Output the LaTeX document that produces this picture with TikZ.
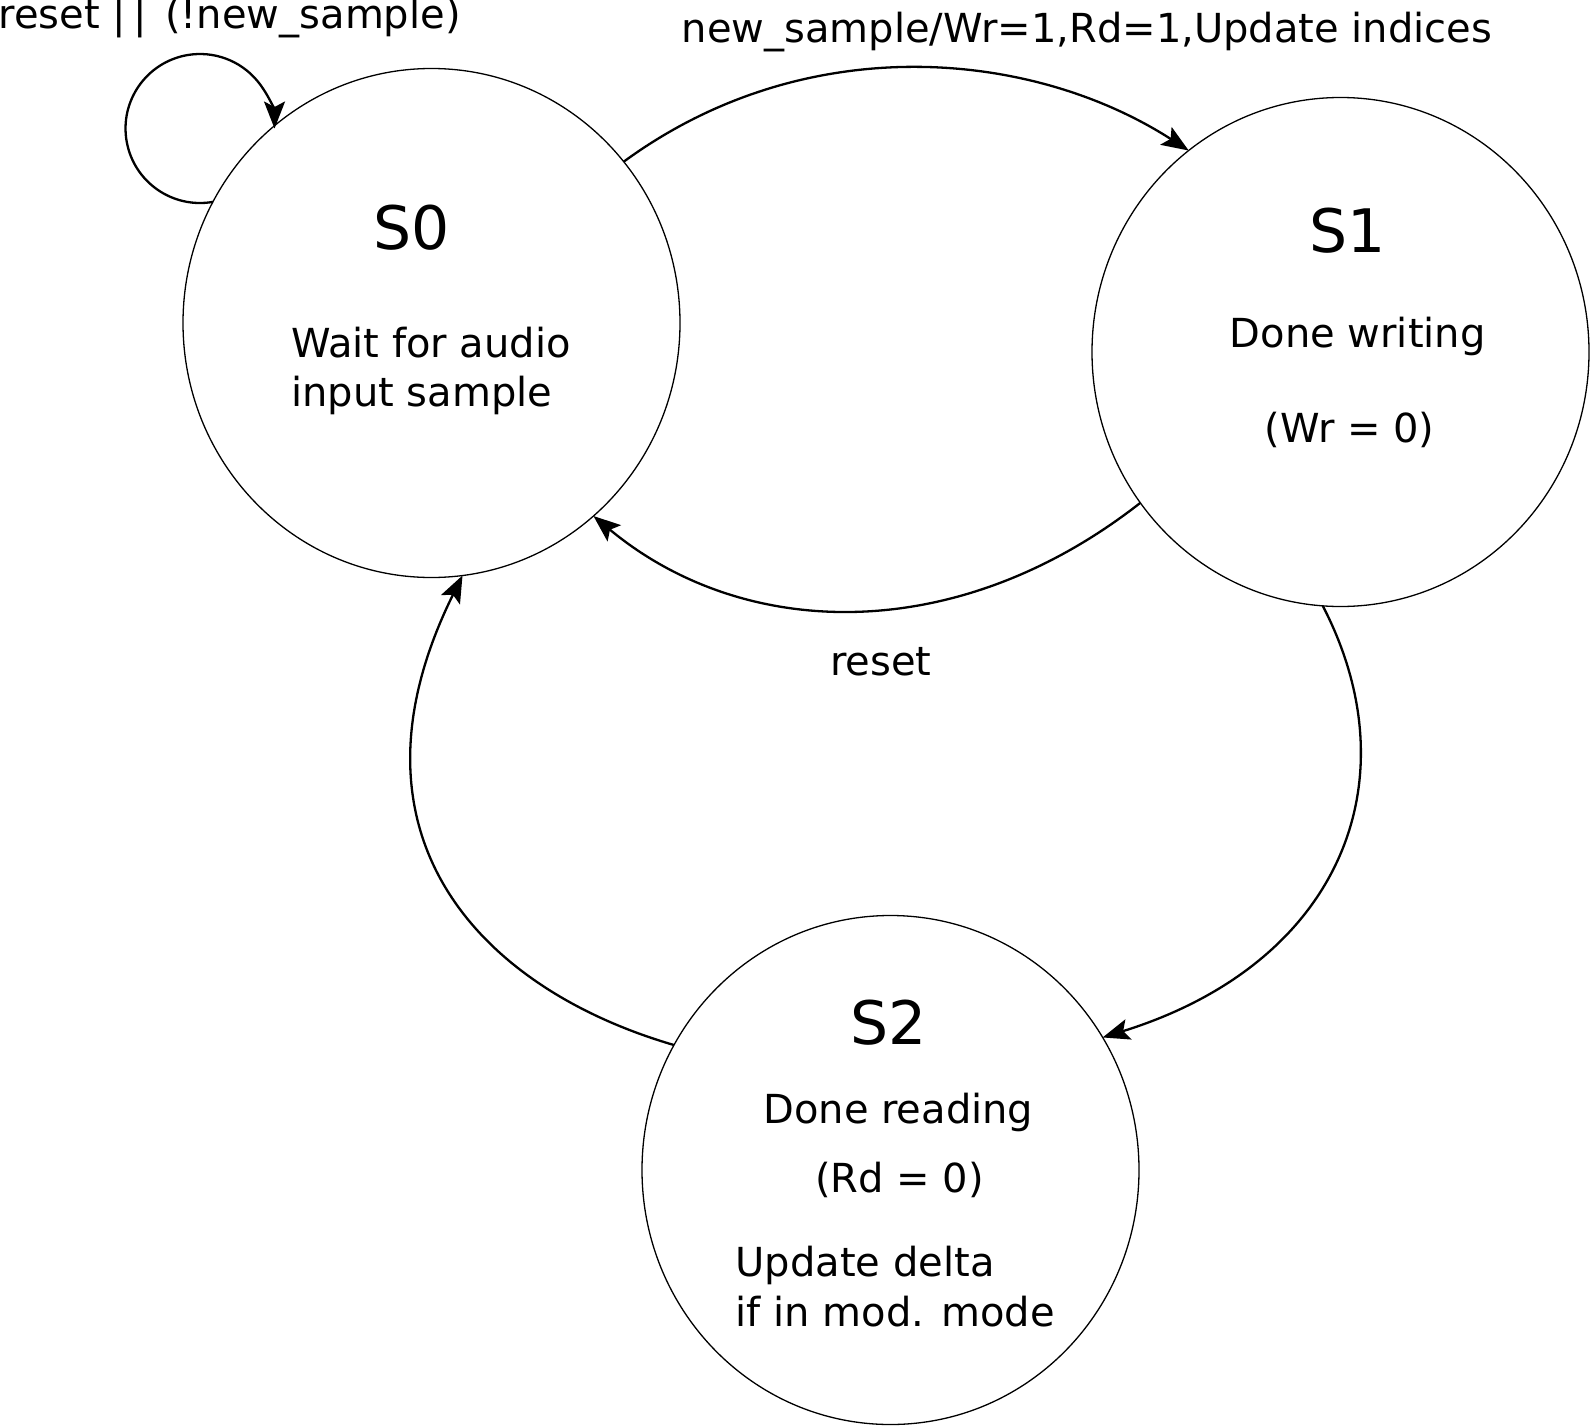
\documentclass[tikz,border=0pt]{standalone}
\usepackage{fontspec}
\setmainfont{DejaVu Sans}
\usetikzlibrary{arrows.meta,shapes.geometric}
\tikzset{
  state/.style={draw, ellipse, line width=1.3pt, minimum width=497pt, minimum height=509pt, inner sep=0pt, outer sep=0pt},
  conn/.style={line width=2.3pt, arrows={-Stealth[length=27pt 0 1, width=21pt 0 1, inset=5.5pt 0 1]}},
  lbl/.style={font=\fontsize{40}{49.6}\selectfont, inner sep=0pt, anchor=base},
  lblw/.style={lbl, anchor=base west},
  big/.style={font=\fontsize{60}{72}\selectfont, inner sep=0pt, anchor=base}
}
\begin{document}
\begin{tikzpicture}[x=1pt,y=1pt]
\useasboundingbox (0,0) rectangle (1590,-1426);
\fill[white] (0,0) rectangle (1590,-1426);

% states
\node[state] (s0) at (431.5,-323) {};
\node[state] (s1) at (1340.5,-352) {};
\node[state] (s2) at (890.5,-1170) {};

% state texts
\node[big] (n0) at (411.7,-249) {S0};
\node[lblw] (t0a) at (291,-357) {Wait for audio};
\node[lblw] (t0b) at (291,-406.6) {input sample};

\node[big] (n1) at (1347.5,-252) {S1};
\node[lbl] (t1a) at (1357.7,-347) {Done writing};
\node[lbl] (t1b) at (1349.6,-442) {(Wr = 0)};

\node[big] (n2) at (889,-1044) {S2};
\node[lbl] (t2a) at (898.4,-1123.5) {Done reading};
\node[lbl] (t2b) at (899.4,-1192.5) {(Rd = 0)};
\node[lblw] (t2c) at (735.5,-1276.6) {Update delta};
\node[lblw] (t2d) at (735.5,-1326.3) {if in mod. mode};

% edge labels
\node[lblw] (l00) at (-1.5,-29) {reset |\kern7pt|\kern6pt\ (!new\_sample)};
\node[lbl] (l01) at (1087,-43) {new\_sample/Wr=1,Rd=1,Update indices};
\node[lbl] (l10) at (881,-675) {reset};

% connectors
\draw[conn] (s0.151.2) arc[start angle=-80, end angle=-360, radius=74.5];
\draw[conn] (s0.40.2) .. controls (806.9,-27.5) and (1033.1,-50.4) .. (s1.127.6);
\draw[conn] (s1.217) .. controls (956.7,-646.7) and (743.7,-640.9) .. (s0.-50.5);
\draw[conn] (s1.266.1) .. controls (1414.1,-782.2) and (1339,-964) .. (s2.32.4);
\draw[conn] (s2.150.1) .. controls (477.8,-987.8) and (334.7,-833.4) .. (s0.-83.1);
\end{tikzpicture}
\end{document}
